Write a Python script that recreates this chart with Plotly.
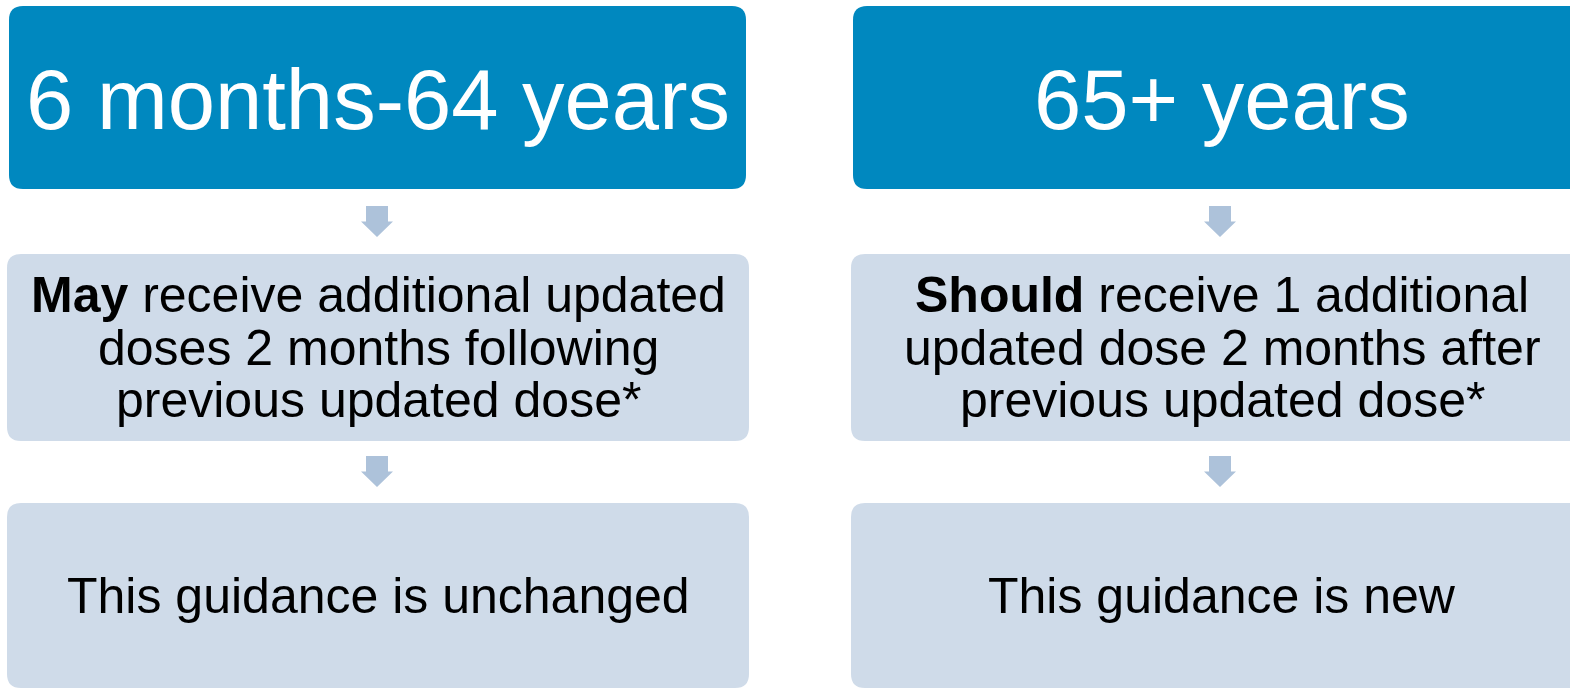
import plotly.graph_objects as go

# ---- content ----
column_titles = ["6 months-64 years", "65+ years"]
middle_lines_left = ["<b>May</b> receive additional updated",
                     "doses 2 months following",
                     "previous updated dose*"]
middle_lines_right = ["<b>Should</b> receive 1 additional",
                      "updated dose 2 months after",
                      "previous updated dose*"]
middle_lines = [middle_lines_left, middle_lines_right]
bottom_texts = ["This guidance is unchanged", "This guidance is new"]

# ---- styling / layout ----
W, H = 1570, 689
DARK = "#0088BF"
LIGHT = "#CFDBE9"
ARROW = "#ADC2DA"
FONT = "Liberation Sans, Arial, sans-serif"

col_top_x = [(9, 746), (853, 1590)]
col_box_x = [(7, 749), (851, 1593)]
top_y = (6, 189)
mid_y = (254, 441)
bot_y = (503, 689)
arrow_cx = [377, 1220]
arrows_y = [(206, 221.5, 237), (456, 471.5, 487)]


def rrect(x0, y0, x1, y1, r=14):
    return (f"M {x0+r},{y0} L {x1-r},{y0} Q {x1},{y0} {x1},{y0+r} "
            f"L {x1},{y1-r} Q {x1},{y1} {x1-r},{y1} L {x0+r},{y1} "
            f"Q {x0},{y1} {x0},{y1-r} L {x0},{y0+r} Q {x0},{y0} {x0+r},{y0} Z")


def arrow(cx, ys, yh, yt, sw=11, hw=16):
    return (f"M {cx-sw},{ys} L {cx+sw},{ys} L {cx+sw},{yh} L {cx+hw},{yh} "
            f"L {cx},{yt} L {cx-hw},{yh} L {cx-sw},{yh} Z")


shapes = []
annotations = []
for i in range(2):
    tx0, tx1 = col_top_x[i]
    bx0, bx1 = col_box_x[i]
    shapes.append(dict(type="path", path=rrect(tx0, top_y[0], tx1, top_y[1]),
                       fillcolor=DARK, line=dict(width=0), layer="below"))
    shapes.append(dict(type="path", path=rrect(bx0, mid_y[0], bx1, mid_y[1]),
                       fillcolor=LIGHT, line=dict(width=0), layer="below"))
    shapes.append(dict(type="path", path=rrect(bx0, bot_y[0], bx1, bot_y[1] - 1),
                       fillcolor=LIGHT, line=dict(width=0), layer="below"))
    for (ys, yh, yt) in arrows_y:
        shapes.append(dict(type="path", path=arrow(arrow_cx[i], ys, yh, yt),
                           fillcolor=ARROW, line=dict(width=0), layer="below"))

    cx = (tx0 + tx1) / 2
    annotations.append(dict(x=cx, y=(top_y[0] + top_y[1]) / 2 + 2, text=column_titles[i],
                            showarrow=False, xanchor="center", yanchor="middle",
                            font=dict(family=FONT, size=85, color="white")))
    mcx = (bx0 + bx1) / 2
    mcy = (mid_y[0] + mid_y[1]) / 2
    for k, line in enumerate(middle_lines[i]):
        annotations.append(dict(x=mcx, y=mcy + (k - 1) * 52.5, text=line,
                                showarrow=False, xanchor="center", yanchor="middle",
                                font=dict(family=FONT, size=50, color="black")))
    annotations.append(dict(x=mcx, y=(bot_y[0] + bot_y[1]) / 2, text=bottom_texts[i],
                            showarrow=False, xanchor="center", yanchor="middle",
                            font=dict(family=FONT, size=50, color="black")))

fig = go.Figure()
fig.update_layout(
    width=W, height=H, autosize=False,
    margin=dict(l=0, r=0, t=0, b=0),
    paper_bgcolor="white", plot_bgcolor="white",
    xaxis=dict(range=[0, W], visible=False, fixedrange=True),
    yaxis=dict(range=[H, 0], visible=False, fixedrange=True),
    shapes=shapes, annotations=annotations, showlegend=False,
)
fig.write_html("out.html", config={"displayModeBar": False},
               post_script="document.body.style.margin='0';document.body.style.overflow='hidden';")
